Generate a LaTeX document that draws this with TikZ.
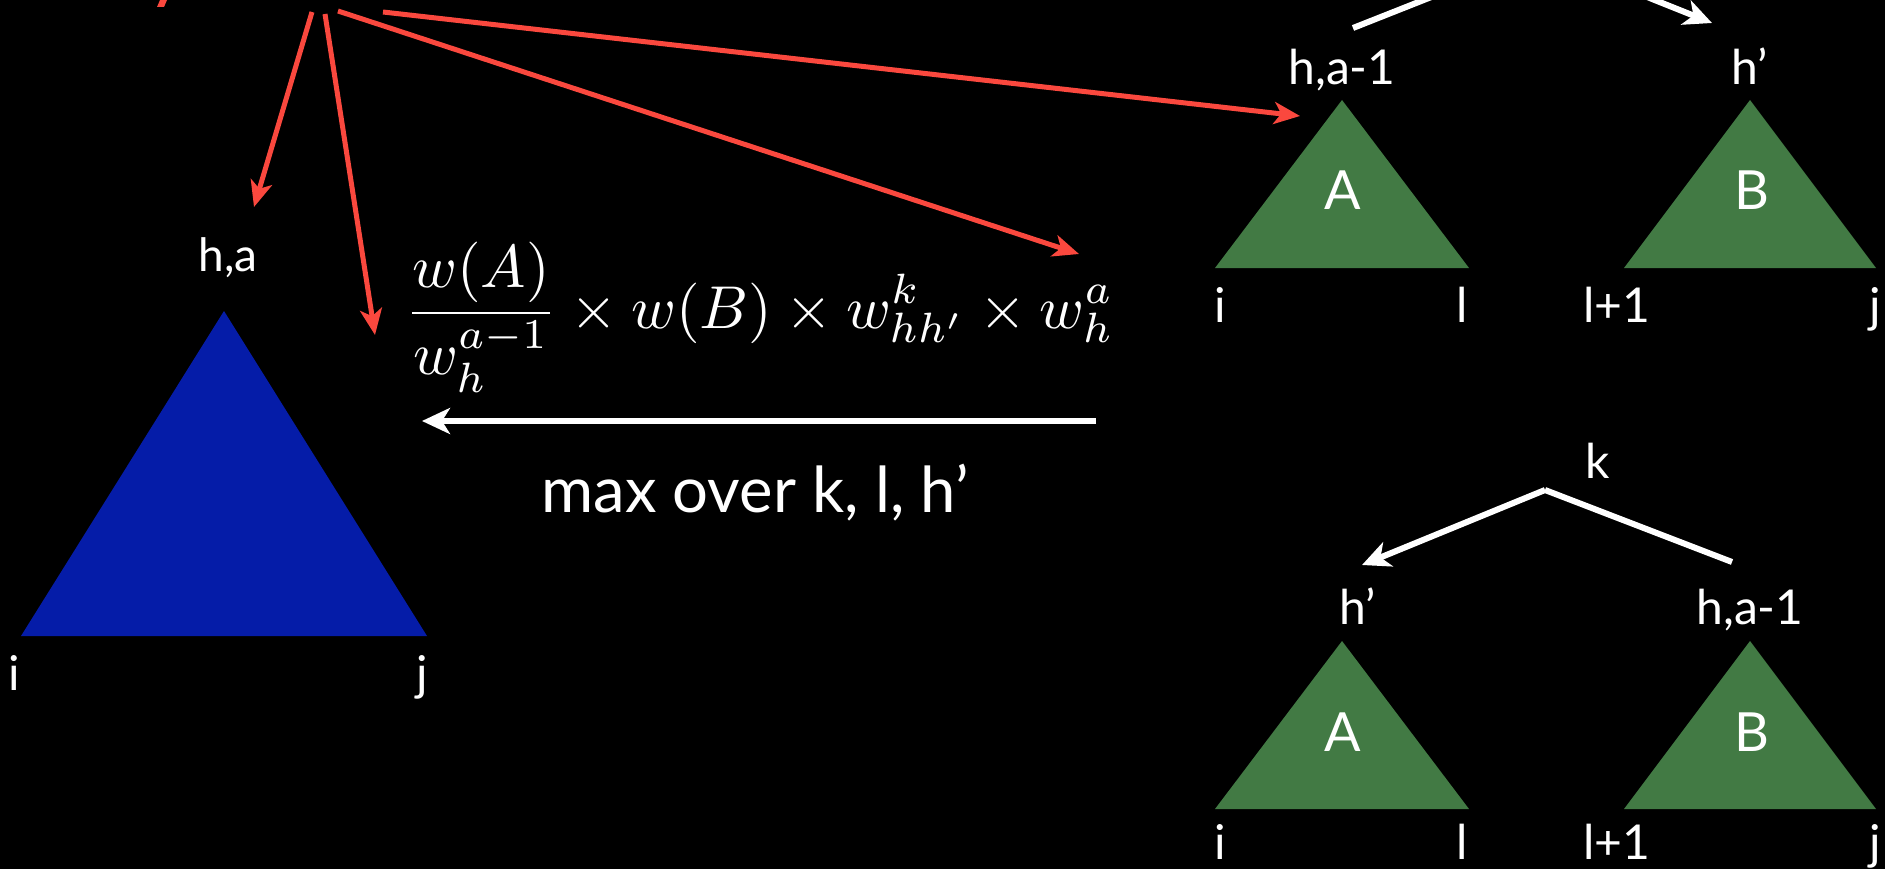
\documentclass[tikz,border=0pt]{standalone}
\usepackage{fontspec}
\setmainfont{Lato}
\usepackage{amsmath}
\usetikzlibrary{arrows.meta}
\definecolor{redarr}{RGB}{250,72,62}
\definecolor{bluetri}{RGB}{5,28,168}
\definecolor{greentri}{RGB}{66,122,68}
\begin{document}
\begin{tikzpicture}[x=1pt,y=-1pt,
  redarrow/.style={draw=redarr, line width=5pt, -{Stealth[length=26pt,width=22pt,inset=7pt]}},
  whitearrow/.style={draw=white, line width=6pt, -{Stealth[length=28pt,width=26pt,inset=8pt]}},
  branch/.style={draw=white, line width=6pt},
  lab/.style={text=white, inner sep=0pt, anchor=base, font=\fontsize{48}{48}\selectfont},
  smalllab/.style={lab, font=\fontsize{46}{46}\selectfont},
  letter/.style={lab, font=\fontsize{54}{54}\selectfont},
  blue tri/.style={fill=bluetri},
  green tri/.style={fill=greentri}]
\useasboundingbox (0,0) rectangle (1885,869);
\fill[black] (0,0) rectangle (1885,869);
\clip (0,0) rectangle (1885,869);

% red fragment at top-left
\fill[redarr] (157,7) -- (164,7) -- (167,0) -- (160,0) -- cycle;

% left blue triangle
\fill[blue tri] (224,311) -- (21,636) -- (427,636) -- cycle;
\node[smalllab] (ha) at (228,272) {h,a};
\node[lab] (li) at (14,690) {i};
\node[lab] (lj) at (422,690) {j};

% formula
\node[anchor=base west, text=white, inner sep=0pt] (formula) at (405,328)
  {\resizebox{709pt}{!}{$\displaystyle \frac{w(A)}{w_h^{a-1}} \times w(B) \times w_{hh'}^{k} \times w_h^{a}$}};

% max arrow
\coordinate (mstart) at (1096,421);
\coordinate (mend) at (422,421);
\draw[whitearrow] (mstart) -- (mend);
\node[text=white, inner sep=0pt, anchor=base] (maxover) at (755,512)
  {\resizebox{427pt}{!}{max over k, l, h’}};

% top tree
\coordinate (p1) at (1540,-46);
\coordinate (c1l) at (1353,28);
\coordinate (c1r) at (1712,23);
\draw[branch] (p1) -- (c1l);
\draw[whitearrow] (p1) -- (c1r);
\node[lab] (t1ha) at (1342,85) {h,a-1};
\node[lab] (t1hp) at (1750,85) {h’};
\fill[green tri] (1342,100) -- (1215,268) -- (1469,268) -- cycle;
\fill[green tri] (1750,100) -- (1624,268) -- (1876,268) -- cycle;
\node[letter] (t1A) at (1343,210) {A};
\node[letter] (t1B) at (1752,210) {B};
\node[lab] (t1i) at (1220,322) {i};
\node[lab] (t1l) at (1462,322) {l};
\node[lab] (t1lp) at (1617,322) {l+1};
\node[lab] (t1j) at (1875,322) {j};

% bottom tree
\node[lab] (k2) at (1598,478) {k};
\coordinate (p2) at (1545,490);
\coordinate (c2l) at (1362,565);
\coordinate (c2r) at (1732,562);
\draw[whitearrow] (p2) -- (c2l);
\draw[branch] (p2) -- (c2r);
\node[lab] (t2hp) at (1358,624) {h’};
\node[lab] (t2ha) at (1750,624) {h,a-1};
\fill[green tri] (1342,641) -- (1215,809) -- (1469,809) -- cycle;
\fill[green tri] (1750,641) -- (1624,809) -- (1876,809) -- cycle;
\node[letter] (t2A) at (1343,751) {A};
\node[letter] (t2B) at (1752,751) {B};
\node[lab] (t2i) at (1220,859) {i};
\node[lab] (t2l) at (1462,859) {l};
\node[lab] (t2lp) at (1617,859) {l+1};
\node[lab] (t2j) at (1875,859) {j};

% red arrows
\coordinate (s1) at (312,12);
\coordinate (s2) at (325,14);
\coordinate (s3) at (338,11);
\coordinate (s4) at (383,12);
\coordinate (r1) at (254,207);
\coordinate (r2) at (375,335);
\coordinate (r3) at (1079,254);
\coordinate (r4) at (1300,116);
\draw[redarrow] (s1) -- (r1);
\draw[redarrow] (s2) -- (r2);
\draw[redarrow] (s3) -- (r3);
\draw[redarrow] (s4) -- (r4);
\end{tikzpicture}
\end{document}
